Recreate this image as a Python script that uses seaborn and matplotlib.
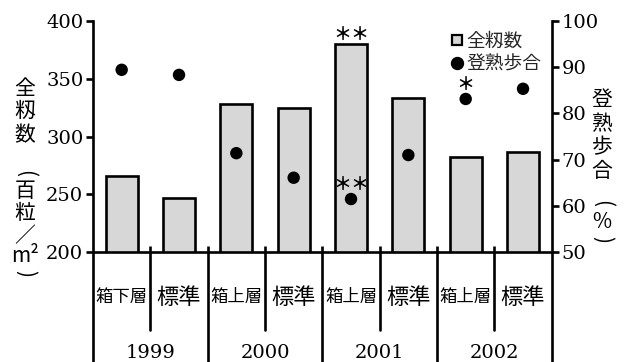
import numpy as np
import pandas as pd
import matplotlib
matplotlib.use("Agg")
import matplotlib.pyplot as plt
from matplotlib.lines import Line2D
import seaborn as sns

# 試験年次・処理区
years = ["1999", "2000", "2001", "2002"]
treatments = ["箱下層", "標準", "箱上層", "標準", "箱上層", "標準", "箱上層", "標準"]
# 全籾数（百粒/m²）と登熟歩合（%）
total_grains = [266, 247, 328, 325, 380, 333, 282, 287]
ripening = [89.4, 88.3, 71.4, 66.1, 61.5, 71.0, 83.1, 85.3]
# 有意差の記号
grain_marks = ["", "", "", "", "＊＊", "", "", ""]
ripening_marks = ["", "", "", "", "＊＊", "", "＊", ""]

sns.set_style("ticks")
plt.rcParams["font.family"] = ["DejaVu Serif", "Noto Sans CJK JP"]
CJK = ["Noto Sans CJK JP", "DejaVu Sans"]
INK = "black"
LW = 1.9

df = pd.DataFrame({
    "区": [f"{years[i // 2]} {t}" for i, t in enumerate(treatments)],
    "全籾数": total_grains,
    "登熟歩合": ripening,
})
df["pos"] = np.arange(len(df))

W, H = 629, 362
fig = plt.figure(figsize=(W / 100, H / 100), dpi=100)
x0, x1, y_top, y_base = 93, 551.7, 20.7, 252.3
ax = fig.add_axes([x0 / W, 1 - y_base / H, (x1 - x0) / W, (y_base - y_top) / H])
ax.set_facecolor("none")

sns.barplot(data=df, x="区", y="全籾数", order=list(df["区"]), color="#d7d7d7",
            saturation=1, edgecolor=INK, linewidth=LW, width=0.56,
            errorbar=None, ax=ax, zorder=2)

ax2 = ax.twinx()
sns.scatterplot(data=df, x="pos", y="登熟歩合", ax=ax2, color=INK, s=80,
                edgecolor="none", zorder=5, legend=False)

ax.set_xlim(-0.5, len(df) - 0.5)
ax.set_ylim(200, 400)
ax2.set_ylim(50, 100)
ax.set_yticks(np.arange(200, 401, 50))
ax2.set_yticks(np.arange(50, 101, 10))
ax.set_xlabel("")
ax.set_ylabel("")
ax2.set_xlabel("")
ax2.set_ylabel("")

# 区の境界に内向きの短い目盛り
ax.set_xticks(np.arange(0.5, len(df) - 1, 1.0))
ax.set_xticklabels([])
ax.tick_params(axis="x", direction="in", length=4.5, width=LW, color=INK)
ax.tick_params(axis="y", direction="out", length=5, width=LW, color=INK,
               labelsize=14, pad=2, labelcolor=INK)
ax2.tick_params(axis="y", direction="out", length=5, width=LW, color=INK,
                labelsize=14, pad=2, labelcolor=INK)

for sp in ["top", "right"]:
    ax.spines[sp].set_visible(False)
for sp in ["left", "bottom"]:
    ax.spines[sp].set_linewidth(LW)
    ax.spines[sp].set_color(INK)
for sp in ["top", "left", "bottom"]:
    ax2.spines[sp].set_visible(False)
ax2.spines["right"].set_linewidth(LW)
ax2.spines["right"].set_color(INK)

# 軸下の区切り線（年次境界は下端まで、年次内は途中まで）
plot_h = y_base - y_top
full_depth = -(H - y_base + 2) / plot_h
half_depth = -(330 - y_base) / plot_h
trans = ax.get_xaxis_transform()
for b in np.arange(0.5, len(df) - 1, 1.0):
    depth = half_depth if int(b) % 2 == 0 else full_depth
    ax.add_line(Line2D([b, b], [0, depth], transform=trans, color=INK,
                       lw=LW, clip_on=False))
for xa in (0, 1):
    ax.add_line(Line2D([xa, xa], [0, full_depth], transform=ax.transAxes,
                       color=INK, lw=LW, clip_on=False))

# 処理区名と年次
for i, t in enumerate(treatments):
    ax.text(i, -(297 - y_base) / plot_h, t, transform=trans, ha="center",
            va="center", family=CJK, fontsize=16 if len(t) == 2 else 12.5,
            color=INK)
for k, yr in enumerate(years):
    ax.text(2 * k + 0.5, -(353 - y_base) / plot_h, yr, transform=trans,
            ha="center", va="center", fontsize=14, color=INK)

# 有意差記号
for i, (m, v) in enumerate(zip(grain_marks, total_grains)):
    if m:
        ax.annotate(m, (i, v), xytext=(0, 7), textcoords="offset points",
                    ha="center", va="center", family=CJK, fontsize=13,
                    fontweight="bold", color=INK, annotation_clip=False)
for i, (m, v) in enumerate(zip(ripening_marks, ripening)):
    if m:
        ax2.annotate(m, (i, v), xytext=(0, 10.5), textcoords="offset points",
                     ha="center", va="center", family=CJK, fontsize=13,
                     fontweight="bold", color=INK, zorder=6)

# 凡例
handles = [
    Line2D([], [], ls="none", marker="s", markersize=7.5, markerfacecolor="#d7d7d7",
           markeredgecolor=INK, markeredgewidth=1.6),
    Line2D([], [], ls="none", marker="o", markersize=8.6, markerfacecolor=INK,
           markeredgecolor=INK),
]
leg = ax2.legend(handles, ["全籾数", "登熟歩合"], loc="upper left",
                 bbox_to_anchor=((449 - x0) / (x1 - x0), (y_base - 31) / plot_h),
                 frameon=False, borderpad=0, borderaxespad=0, handlelength=0.8,
                 handletextpad=0.15, labelspacing=0.1,
                 prop={"family": CJK, "size": 13.5})

# 縦書きの軸ラベル（括弧は横向きの括弧を回転して縦書き用にする）
left_label = [("全", 89, 0), ("籾", 111, 0), ("数", 135, 0), ("(", 173, -90),
              ("百", 191, 0), ("粒", 213, 0), ("／", 236, 0), ("m²", 256, 0),
              (")", 274, -90)]
for ch, yp, rot in left_label:
    fig.text(25 / W, 1 - yp / H, ch, ha="center", va="center", family=CJK,
             fontsize=15, color=INK, rotation=rot)
right_label = [("登", 100, 0), ("熟", 124, 0), ("歩", 147, 0), ("合", 171, 0),
               ("(", 204, -90), ("%", 222, 0), (")", 240, -90)]
for ch, yp, rot in right_label:
    fig.text(602 / W, 1 - yp / H, ch, ha="center", va="center", family=CJK,
             fontsize=15, color=INK, rotation=rot)

fig.savefig("out.png", dpi=100)
